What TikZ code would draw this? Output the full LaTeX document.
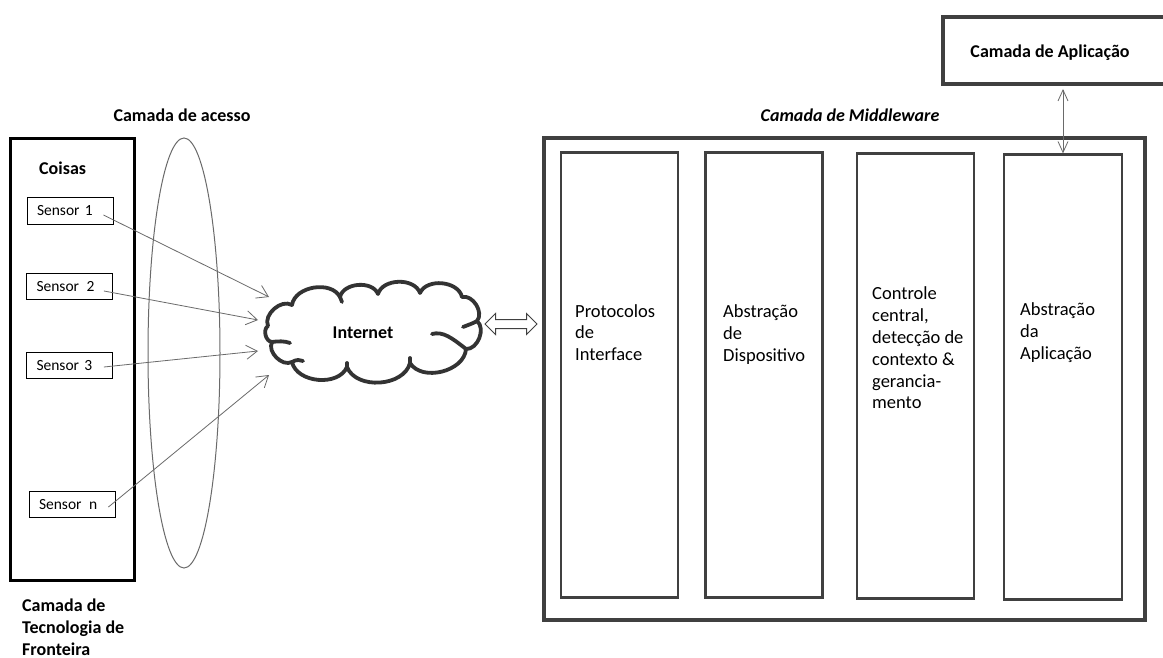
\documentclass[tikz,border=0pt]{standalone}
\usepackage{fontspec}
\setmainfont{Carlito}
\usetikzlibrary{shapes.geometric,shapes.arrows,arrows.meta,calc}
\definecolor{framec}{HTML}{404040}
\definecolor{thinc}{HTML}{6A6A6A}
\definecolor{cloudc}{HTML}{333333}

\begin{document}
\begin{tikzpicture}[x=1pt,y=-1pt,
  every node/.style={font=\fontsize{18.5}{21.8}\selectfont},
  title/.style={font=\fontsize{18}{22}\selectfont\bfseries, inner sep=0pt},
  sensor/.style={draw=black, line width=0.9pt, minimum width=86pt, minimum height=26.5pt,
    inner xsep=10pt, text width=66pt, align=left, font=\fontsize{15.5}{18}\selectfont},
  layer/.style={draw=framec, line width=2.2pt, minimum width=117pt, minimum height=445pt, inner sep=0pt},
  coltext/.style={anchor=west, align=left, inner sep=0pt},
  feed/.style={draw=thinc, line width=0.8pt, -{Straight Barb[length=11pt,width=14pt]}},
  updown/.style={draw=thinc, line width=0.8pt,
    {Straight Barb[length=11pt,width=10pt]}-{Straight Barb[length=11pt,width=10pt]}},
  puff/.style={bend left=72},
  cloudline/.style={draw=cloudc, line width=3.8pt, line cap=round, line join=round},
]
\useasboundingbox (0,0) rectangle (1163,658);
\clip (0,0) rectangle (1163,658);
\fill[white] (0,0) rectangle (1163,658);

% --- things layer -------------------------------------------------------
\node[draw=black, line width=3pt, minimum width=124pt, minimum height=441pt, inner sep=0pt] (things) at (72,359.5) {};
\node[title, anchor=west] (coisas) at (39,168) {Coisas};
\node[sensor] (s1) at (70,211) {Sensor 1};
\node[sensor] (s2) at (69.5,286.5) {Sensor\hspace{0.15em} 2};
\node[sensor] (s3) at (69.5,365.5) {Sensor 3};
\node[sensor] (sn) at (72,504.5) {Sensor\hspace{0.15em} n};
\node[title, anchor=west, align=left] (front) at (22,627) {Camada de\\Tecnologia de\\Fronteira};

% --- access layer -------------------------------------------------------
\node[ellipse, draw=thinc, line width=1pt, minimum width=72pt, minimum height=430pt, inner sep=0pt] (access) at (184,353) {};
\node[title] (accesst) at (182,115) {Camada de acesso};

% --- internet cloud: puffs between the dents, plus the inner curls -------
\coordinate (v1) at (268,326);
\coordinate (v2) at (292,305);
\coordinate (v3) at (340,297);
\coordinate (v4) at (378,294);
\coordinate (v5) at (420,293);
\coordinate (v6) at (462,297);
\coordinate (v7) at (477,321);
\coordinate (v8) at (466,349);
\coordinate (v9) at (410,363);
\coordinate (v10) at (347,367);
\coordinate (v11) at (292,362);
\coordinate (v12) at (272,342);
\fill[white] (v1) to[puff] (v2) to[puff] (v3) to[puff] (v4) to[puff] (v5) to[puff] (v6)
  to[puff] (v7) to[puff] (v8) to[puff] (v9) to[puff] (v10) to[puff] (v11) to[puff] (v12)
  to[puff] (v1) -- cycle;
\draw[cloudline] (v1) to[puff] (v2) to[puff] (v3) to[puff] (v4) to[puff] (v5) to[puff] (v6)
  to[puff] (v7) to[puff] (v8) to[puff] (v9) to[puff] (v10) to[puff] (v11) to[puff] (v12)
  to[puff] (v1);
\draw[cloudline] (v12) .. controls (278,341) and (285,341) .. (290,343);
\draw[cloudline] (v11) .. controls (297,359) and (300,360) .. (303,361);
\draw[cloudline] (v10) -- ++(0,-4);
\draw[cloudline] (v9) -- ++(0,-5);
\draw[cloudline] (v8) .. controls (452,338) and (443,331) .. (432,334);
\draw[cloudline] (v7) .. controls (474,323) and (468,325) .. (463,327);
\draw[cloudline] (v3) -- ++(2,5);
\node[title] (net) at (363,333) {Internet};

\coordinate (a1) at (269,297);
\coordinate (a2) at (258,320);
\coordinate (a3) at (258,351);
\coordinate (a4) at (269,375);
\draw[feed] ($(s1.east)+(-10,4)$) -- (a1);
\draw[feed] ($(s2.east)+(-9,4.5)$) -- (a2);
\draw[feed] ($(s3.east)+(-9,1.5)$) -- (a3);
\draw[feed] ($(sn.east)+(-7,2.5)$) -- (a4);

\node[double arrow, draw=framec, line width=1pt, minimum height=52pt, inner xsep=0pt, inner ysep=4pt,
  double arrow head extend=6pt] (link) at (511,324) {};

% --- middleware layer ---------------------------------------------------
\node[draw=framec, line width=4pt, minimum width=601pt, minimum height=481pt, inner sep=0pt] (mw) at (844,379) {};
\node[title, font=\fontsize{18}{22}\selectfont\bfseries\itshape] (mwt) at (850,115) {Camada de Middleware};

\node[layer] (c1) at (619.5,375) {};
\node[layer] (c2) at (764,375) {};
\node[layer] (c3) at (915.5,376) {};
\node[layer, minimum width=118pt] (c4) at (1063,377) {};

\node[coltext] (t1) at (575,332.5) {Protocolos\\de\\Interface};
\node[coltext] (t2) at (723,334.5) {Abstração\\de\\Dispositivo};
\node[coltext] (t3) at (872,348) {Controle\\central,\\detecção de\\contexto \&\\gerancia-\\mento};
\node[coltext] (t4) at (1020,332.5) {Abstração\\da\\Aplicação};

% --- application layer --------------------------------------------------
\node[draw=framec, line width=4pt, minimum width=240pt, minimum height=67pt, inner sep=0pt] (app) at (1063,50.5) {};
\node[title] (appt) at (1050,53) {Camada de Aplicação};
\draw[updown, shorten <=3pt] (app.south) -- (c4.north);
\end{tikzpicture}
\end{document}
